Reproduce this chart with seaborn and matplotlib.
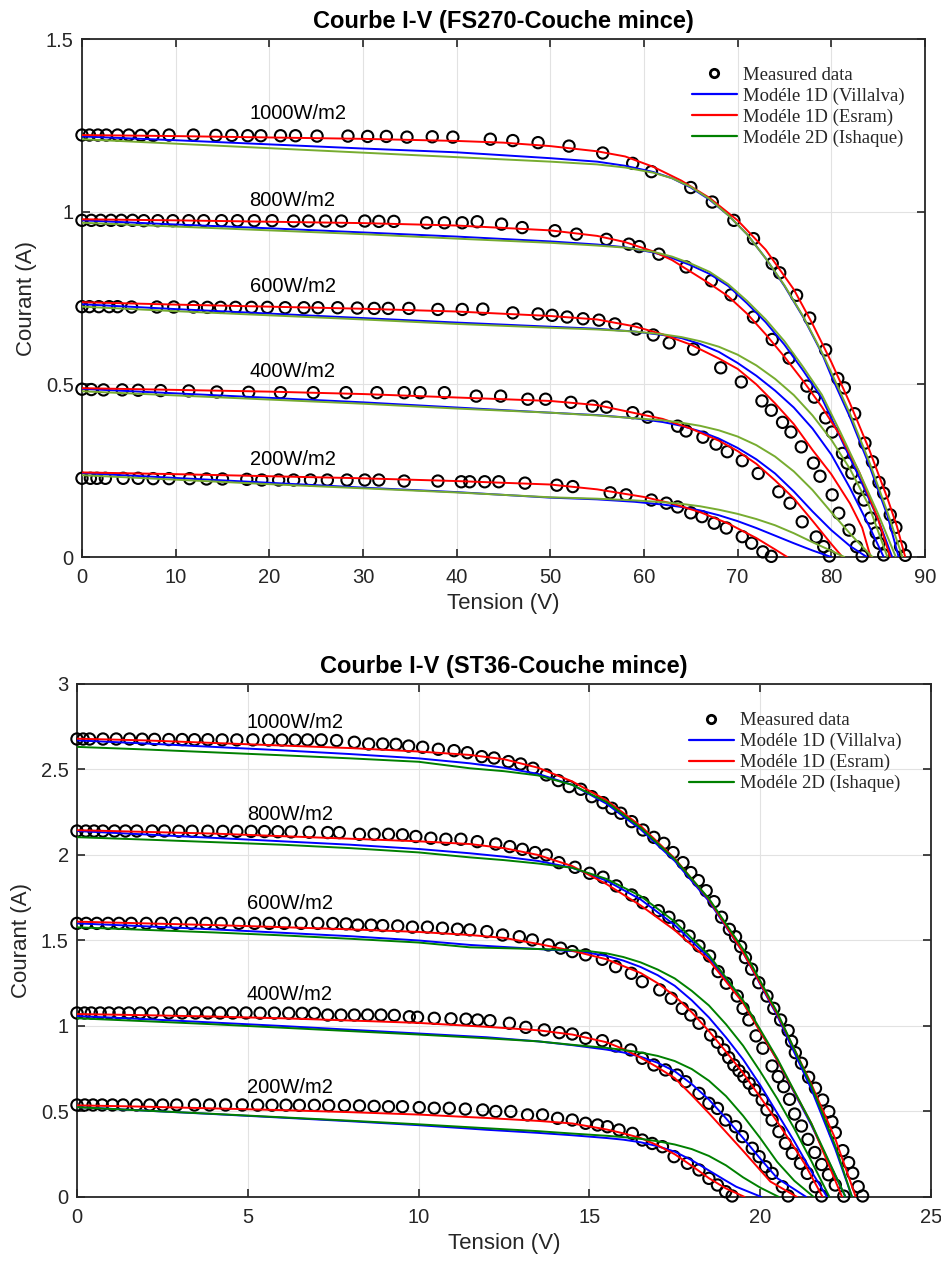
import matplotlib
matplotlib.use("Agg")
import matplotlib.pyplot as plt
from matplotlib.lines import Line2D
from matplotlib.ticker import FuncFormatter, MultipleLocator
import seaborn as sns
import pandas as pd

# ---------------------------------------------------------------
# FS270 thin film module : measured points (V, A)
# ---------------------------------------------------------------
fs_meas_1000 = [(0, 1.222), (0.8, 1.222), (1.7, 1.222), (2.6, 1.222), (3.8, 1.222), (5.0, 1.222),
                (6.3, 1.221), (7.6, 1.221), (9.3, 1.222), (11.9, 1.222), (14.3, 1.221), (16.0, 1.221),
                (17.7, 1.220), (19.1, 1.220), (21.2, 1.220), (22.8, 1.220), (25.1, 1.219), (28.4, 1.219),
                (30.5, 1.218), (32.5, 1.218), (34.7, 1.216), (37.4, 1.217), (39.6, 1.216), (43.6, 1.210),
                (46.0, 1.206), (48.7, 1.200), (52.0, 1.190), (55.6, 1.170), (58.8, 1.140), (60.8, 1.116),
                (65.0, 1.070), (67.3, 1.028), (69.6, 0.975), (71.7, 0.922), (73.7, 0.850), (74.5, 0.823),
                (76.3, 0.758), (77.7, 0.692), (79.4, 0.600), (80.7, 0.517), (81.4, 0.490), (82.5, 0.415),
                (83.6, 0.330), (84.4, 0.276), (85.1, 0.216), (85.6, 0.185), (86.3, 0.122), (86.9, 0.086),
                (87.4, 0.030), (87.9, 0.005)]
fs_meas_800 = [(0, 0.975), (1.0, 0.975), (2.0, 0.975), (3.1, 0.975), (4.2, 0.975), (5.4, 0.975),
               (6.6, 0.974), (8.1, 0.974), (9.7, 0.974), (11.4, 0.974), (13.0, 0.974), (14.9, 0.974),
               (16.6, 0.974), (18.4, 0.974), (20.3, 0.974), (22.6, 0.973), (24.2, 0.973), (26.0, 0.973),
               (27.7, 0.973), (30.2, 0.973), (31.7, 0.972), (33.3, 0.972), (36.8, 0.968), (38.7, 0.968),
               (40.6, 0.968), (42.2, 0.971), (44.8, 0.964), (47.0, 0.954), (50.5, 0.945), (52.8, 0.935),
               (56.0, 0.920), (58.4, 0.906), (59.5, 0.899), (61.6, 0.877), (64.5, 0.840), (67.2, 0.800),
               (69.3, 0.759), (71.7, 0.695), (73.7, 0.630), (75.5, 0.576), (77.4, 0.495), (78.2, 0.463),
               (79.4, 0.403), (80.1, 0.362), (81.2, 0.300), (81.7, 0.272), (82.2, 0.243), (83.0, 0.200),
               (83.5, 0.165), (84.2, 0.113), (84.8, 0.070), (85.1, 0.040), (85.6, 0.006)]
fs_meas_600 = [(0, 0.725), (0.8, 0.725), (1.8, 0.725), (2.9, 0.725), (3.8, 0.725), (5.3, 0.724),
               (8.0, 0.724), (9.8, 0.724), (11.9, 0.724), (13.4, 0.723), (14.8, 0.723), (16.4, 0.723),
               (18.1, 0.723), (19.8, 0.723), (21.7, 0.722), (23.7, 0.722), (25.2, 0.722), (27.3, 0.722),
               (29.4, 0.721), (31.2, 0.720), (32.7, 0.720), (34.9, 0.720), (38.0, 0.717), (40.6, 0.717),
               (42.8, 0.718), (46.0, 0.707), (48.7, 0.704), (50.2, 0.700), (51.8, 0.695), (53.5, 0.690),
               (55.2, 0.686), (56.9, 0.675), (59.2, 0.660), (61.0, 0.643), (62.7, 0.620), (65.3, 0.602),
               (68.2, 0.548), (70.4, 0.507), (72.6, 0.452), (73.6, 0.425), (74.8, 0.390), (75.7, 0.362),
               (76.8, 0.319), (78.1, 0.272), (78.8, 0.234), (80.1, 0.180), (80.8, 0.127), (81.9, 0.078),
               (82.7, 0.030), (83.3, 0.003)]
fs_meas_400 = [(0, 0.486), (1.0, 0.485), (2.3, 0.484), (4.3, 0.484), (6.0, 0.483), (8.4, 0.482),
               (11.4, 0.481), (14.4, 0.478), (17.8, 0.477), (21.2, 0.476), (24.7, 0.476), (28.2, 0.476),
               (31.5, 0.476), (34.4, 0.476), (36.1, 0.476), (38.7, 0.476), (42.1, 0.466), (44.7, 0.466),
               (47.6, 0.457), (49.5, 0.457), (52.2, 0.448), (54.5, 0.437), (56.0, 0.434), (58.8, 0.418),
               (60.4, 0.405), (63.6, 0.379), (64.5, 0.365), (66.3, 0.347), (67.7, 0.327), (68.9, 0.305),
               (70.5, 0.279), (72.2, 0.242), (74.4, 0.189), (75.6, 0.156), (76.9, 0.102), (78.4, 0.058),
               (79.2, 0.030), (79.8, 0.003)]
fs_meas_200 = [(0, 0.228), (0.9, 0.228), (1.6, 0.228), (2.5, 0.228), (4.4, 0.228), (6.0, 0.228),
               (7.6, 0.227), (9.3, 0.227), (11.5, 0.227), (13.3, 0.226), (15.0, 0.226), (17.6, 0.225),
               (19.2, 0.223), (21.0, 0.223), (22.6, 0.223), (24.4, 0.223), (26.2, 0.223), (28.3, 0.223),
               (30.2, 0.223), (31.7, 0.223), (34.4, 0.220), (38.0, 0.220), (40.5, 0.218), (41.4, 0.218),
               (43.0, 0.218), (44.5, 0.218), (47.3, 0.214), (50.7, 0.208), (52.4, 0.204), (56.4, 0.186),
               (58.1, 0.180), (60.8, 0.165), (62.4, 0.156), (63.6, 0.145), (65.0, 0.128), (66.2, 0.117),
               (67.5, 0.098), (68.8, 0.084), (70.5, 0.059), (71.5, 0.040), (72.7, 0.015), (73.6, 0.002)]

# FS270 model curves
fs_villalva_1000 = [(0, 1.218), (10, 1.207), (20, 1.195), (30, 1.183), (40, 1.172), (50, 1.155), (55, 1.145),
                    (58, 1.133), (61, 1.115), (63, 1.097), (65, 1.070), (67, 1.035), (69, 0.990), (71, 0.935),
                    (73, 0.865), (75, 0.785), (77, 0.695), (79, 0.590), (80, 0.525), (82, 0.405), (84, 0.270),
                    (86, 0.120), (87.2, 0)]
fs_esram_1000 = [(0, 1.222), (10, 1.219), (20, 1.215), (30, 1.211), (40, 1.205), (45, 1.200), (50, 1.190),
                 (55, 1.175), (58, 1.160), (61, 1.130), (64, 1.090), (67, 1.040), (70, 0.975), (73, 0.890),
                 (76, 0.775), (78, 0.675), (80, 0.565), (82, 0.445), (84, 0.315), (86, 0.170), (87, 0.090),
                 (87.9, 0)]
fs_ishaque_1000 = [(0, 1.210), (10, 1.197), (20, 1.184), (30, 1.171), (40, 1.158), (50, 1.145), (55, 1.137),
                   (58, 1.128), (61, 1.113), (63, 1.097), (65, 1.072), (67, 1.037), (69, 0.990), (71, 0.935),
                   (73, 0.865), (75, 0.787), (77, 0.697), (79, 0.593), (80, 0.535), (82, 0.415), (84, 0.280),
                   (86, 0.130), (87.6, 0)]
fs_villalva_800 = [(0, 0.975), (10, 0.963), (20, 0.952), (30, 0.940), (40, 0.928), (50, 0.914), (55, 0.905),
                   (58, 0.897), (61, 0.882), (63, 0.866), (65, 0.845), (67, 0.820), (69, 0.785), (71, 0.735),
                   (73, 0.680), (75, 0.615), (77, 0.540), (79, 0.460), (81, 0.345), (83, 0.230), (85, 0.110),
                   (86.5, 0)]
fs_esram_800 = [(0, 0.978), (10, 0.975), (20, 0.971), (30, 0.967), (40, 0.960), (50, 0.946), (55, 0.930),
                (58, 0.912), (61, 0.885), (63, 0.860), (65, 0.826), (67, 0.792), (69, 0.755), (71, 0.705),
                (73, 0.645), (75, 0.580), (77, 0.510), (79, 0.435), (81, 0.350), (83, 0.245), (85, 0.110),
                (86.3, 0)]
fs_ishaque_800 = [(0, 0.968), (10, 0.957), (20, 0.946), (30, 0.935), (40, 0.922), (50, 0.910), (55, 0.902),
                  (58, 0.896), (61, 0.884), (63, 0.870), (65, 0.850), (67, 0.826), (69, 0.790), (71, 0.742),
                  (73, 0.688), (75, 0.625), (77, 0.550), (79, 0.470), (81, 0.360), (83, 0.245), (85, 0.125),
                  (86.9, 0)]
fs_villalva_600 = [(0, 0.732), (10, 0.718), (20, 0.705), (30, 0.692), (40, 0.679), (50, 0.667), (55, 0.661),
                   (59, 0.653), (62, 0.643), (64, 0.634), (66, 0.617), (68, 0.594), (70, 0.562), (72, 0.525),
                   (74, 0.482), (76, 0.433), (78, 0.372), (80, 0.297), (82, 0.200), (84, 0.092), (85.6, 0)]
fs_esram_600 = [(0, 0.738), (10, 0.731), (20, 0.725), (30, 0.719), (40, 0.711), (50, 0.698), (55, 0.688),
                (59, 0.668), (62, 0.645), (65, 0.615), (68, 0.575), (70, 0.545), (72, 0.500), (74, 0.445),
                (76, 0.385), (78, 0.310), (80, 0.240), (82, 0.155), (83.3, 0.085), (84.2, 0)]
fs_ishaque_600 = [(0, 0.725), (10, 0.712), (20, 0.700), (30, 0.688), (40, 0.675), (50, 0.664), (55, 0.659),
                  (59, 0.653), (62, 0.645), (64, 0.637), (66, 0.625), (68, 0.609), (70, 0.586), (72, 0.555),
                  (74, 0.516), (76, 0.469), (78, 0.410), (80, 0.340), (82, 0.255), (84, 0.150), (86.0, 0)]
fs_villalva_400 = [(0, 0.487), (10, 0.474), (20, 0.461), (30, 0.448), (40, 0.433), (50, 0.418), (55, 0.411),
                   (59, 0.402), (62, 0.391), (64, 0.380), (66, 0.364), (68, 0.343), (70, 0.316), (72, 0.283),
                   (74, 0.242), (76, 0.190), (78, 0.132), (80, 0.078), (82, 0.032), (83.8, 0)]
fs_esram_400 = [(0, 0.489), (10, 0.484), (20, 0.479), (30, 0.472), (40, 0.462), (50, 0.452), (55, 0.440),
                (59, 0.417), (62, 0.400), (65, 0.372), (68, 0.337), (70, 0.307), (72, 0.270), (74, 0.222),
                (76, 0.170), (78, 0.105), (80, 0.038), (81.2, 0)]
fs_ishaque_400 = [(0, 0.480), (10, 0.468), (20, 0.456), (30, 0.444), (40, 0.430), (50, 0.418), (55, 0.410),
                  (58, 0.404), (60, 0.400), (62, 0.396), (64, 0.389), (66, 0.380), (68, 0.367), (70, 0.349),
                  (72, 0.324), (74, 0.291), (76, 0.248), (78, 0.194), (80, 0.130), (82, 0.068), (83, 0.039),
                  (84.4, 0)]
fs_villalva_200 = [(0, 0.243), (10, 0.229), (20, 0.215), (30, 0.201), (40, 0.188), (50, 0.172), (55, 0.167),
                   (59, 0.160), (62, 0.152), (64, 0.145), (66, 0.135), (68, 0.121), (70, 0.104), (72, 0.084),
                   (74, 0.062), (76, 0.040), (78, 0.019), (80, 0)]
fs_esram_200 = [(0, 0.245), (10, 0.240), (20, 0.234), (30, 0.228), (40, 0.220), (50, 0.210), (55, 0.196),
                (60, 0.174), (63, 0.155), (66, 0.130), (69, 0.097), (72, 0.055), (74, 0.022), (75.3, 0)]
fs_ishaque_200 = [(0, 0.237), (10, 0.224), (20, 0.211), (30, 0.199), (40, 0.187), (50, 0.173), (55, 0.169),
                  (59, 0.164), (62, 0.159), (64, 0.154), (66, 0.147), (68, 0.137), (70, 0.125), (72, 0.110),
                  (74, 0.092), (76, 0.069), (78, 0.043), (80, 0.018), (81.4, 0)]

# ---------------------------------------------------------------
# ST36 thin film module : measured points (V, A)
# ---------------------------------------------------------------
st_meas_1000 = [(0, 2.678), (0.18, 2.678), (0.37, 2.678), (0.76, 2.678), (1.15, 2.678), (1.54, 2.678),
                (1.91, 2.677), (2.27, 2.676), (2.69, 2.675), (3.08, 2.675), (3.44, 2.674), (3.83, 2.674),
                (4.25, 2.673), (4.68, 2.673), (5.15, 2.673), (5.61, 2.672), (6.00, 2.672), (6.39, 2.672),
                (6.75, 2.673), (7.15, 2.673), (7.60, 2.669), (8.12, 2.659), (8.54, 2.649), (8.95, 2.649),
                (9.34, 2.647), (9.71, 2.637), (10.12, 2.630), (10.58, 2.618), (11.04, 2.610), (11.43, 2.598),
                (11.85, 2.575), (12.21, 2.567), (12.63, 2.546), (12.99, 2.532), (13.35, 2.507), (13.74, 2.468),
                (14.09, 2.435), (14.41, 2.400), (14.75, 2.384), (15.07, 2.341), (15.40, 2.306), (15.66, 2.273),
                (15.92, 2.244), (16.24, 2.195), (16.57, 2.146), (16.89, 2.103), (17.18, 2.068), (17.45, 2.014),
                (17.74, 1.955), (17.97, 1.897), (18.19, 1.850), (18.42, 1.791), (18.65, 1.727), (18.87, 1.636),
                (19.10, 1.565), (19.28, 1.522), (19.43, 1.464), (19.57, 1.400), (19.75, 1.332), (19.96, 1.253),
                (20.20, 1.175), (20.40, 1.103), (20.60, 1.035), (20.82, 0.973), (20.92, 0.910), (21.03, 0.844),
                (21.21, 0.782), (21.42, 0.700), (21.62, 0.636), (21.83, 0.567), (22.01, 0.499), (22.10, 0.440),
                (22.20, 0.376), (22.42, 0.271), (22.59, 0.201), (22.71, 0.139), (22.87, 0.060), (23.00, 0.006)]
st_meas_800 = [(0, 2.140), (0.26, 2.140), (0.50, 2.140), (0.76, 2.140), (1.10, 2.140), (1.42, 2.140),
               (1.75, 2.140), (2.20, 2.140), (2.56, 2.140), (2.98, 2.139), (3.37, 2.139), (3.83, 2.139),
               (4.27, 2.138), (4.68, 2.138), (5.10, 2.138), (5.49, 2.137), (5.88, 2.136), (6.27, 2.135),
               (6.80, 2.133), (7.34, 2.131), (7.68, 2.131), (8.27, 2.121), (8.70, 2.121), (9.12, 2.121),
               (9.53, 2.118), (9.92, 2.108), (10.36, 2.098), (10.80, 2.092), (11.24, 2.092), (11.72, 2.078),
               (12.26, 2.064), (12.67, 2.049), (13.04, 2.033), (13.41, 2.014), (13.74, 2.000), (14.11, 1.955),
               (14.58, 1.928), (15.01, 1.893), (15.40, 1.870), (15.79, 1.819), (16.24, 1.766), (16.57, 1.721),
               (17.02, 1.674), (17.33, 1.636), (17.62, 1.585), (17.92, 1.526), (18.21, 1.468), (18.52, 1.409),
               (18.77, 1.318), (19.01, 1.250), (19.33, 1.175), (19.50, 1.103), (19.67, 1.035), (19.88, 0.942),
               (20.08, 0.870), (20.35, 0.766), (20.53, 0.704), (20.69, 0.645), (20.86, 0.571), (21.01, 0.485),
               (21.21, 0.415), (21.40, 0.337), (21.60, 0.260), (21.80, 0.190), (22.00, 0.130), (22.20, 0.070),
               (22.45, 0.005)]
st_meas_600 = [(0, 1.600), (0.27, 1.600), (0.58, 1.600), (0.91, 1.600), (1.23, 1.600), (1.59, 1.600),
               (2.03, 1.600), (2.47, 1.600), (2.89, 1.600), (3.35, 1.600), (3.78, 1.600), (4.22, 1.600),
               (4.74, 1.600), (5.20, 1.600), (5.63, 1.600), (6.07, 1.600), (6.56, 1.600), (7.05, 1.600),
               (7.49, 1.599), (7.88, 1.597), (8.22, 1.590), (8.61, 1.590), (8.95, 1.587), (9.39, 1.585),
               (9.82, 1.578), (10.26, 1.578), (10.70, 1.572), (11.14, 1.566), (11.50, 1.562), (12.00, 1.552),
               (12.46, 1.532), (12.95, 1.522), (13.33, 1.503), (13.80, 1.474), (14.16, 1.455), (14.50, 1.435),
               (14.89, 1.416), (15.38, 1.390), (15.77, 1.347), (16.23, 1.308), (16.55, 1.259), (17.06, 1.211),
               (17.40, 1.162), (17.72, 1.103), (17.97, 1.064), (18.21, 1.016), (18.55, 0.947), (18.75, 0.905),
               (18.94, 0.860), (19.08, 0.815), (19.23, 0.772), (19.38, 0.738), (19.52, 0.704), (19.68, 0.665),
               (19.84, 0.626), (20.06, 0.567), (20.20, 0.510), (20.35, 0.450), (20.55, 0.382), (20.74, 0.314),
               (20.94, 0.255), (21.18, 0.197), (21.38, 0.138), (21.62, 0.060), (21.80, 0.006)]
st_meas_400 = [(0, 1.076), (0.22, 1.076), (0.42, 1.076), (0.68, 1.076), (0.94, 1.076), (1.23, 1.076),
               (1.52, 1.076), (1.85, 1.076), (2.22, 1.076), (2.69, 1.076), (3.08, 1.076), (3.47, 1.076),
               (3.83, 1.076), (4.19, 1.076), (4.56, 1.076), (4.95, 1.076), (5.36, 1.075), (5.78, 1.075),
               (6.20, 1.075), (6.59, 1.074), (6.95, 1.074), (7.34, 1.064), (7.73, 1.064), (8.12, 1.064),
               (8.51, 1.064), (8.90, 1.064), (9.29, 1.062), (9.73, 1.054), (9.97, 1.051), (10.46, 1.045),
               (10.95, 1.042), (11.39, 1.040), (11.73, 1.035), (12.09, 1.031), (12.66, 1.016), (13.14, 0.992),
               (13.68, 0.977), (14.12, 0.961), (14.50, 0.953), (14.89, 0.928), (15.38, 0.914), (15.77, 0.883),
               (16.21, 0.860), (16.55, 0.811), (16.89, 0.772), (17.23, 0.743), (17.57, 0.713), (17.82, 0.674),
               (18.21, 0.606), (18.50, 0.548), (18.75, 0.518), (18.99, 0.450), (19.28, 0.411), (19.48, 0.353),
               (19.77, 0.285), (19.97, 0.236), (20.16, 0.177), (20.35, 0.138), (20.65, 0.060), (20.82, 0.006)]
st_meas_200 = [(0, 0.538), (0.23, 0.538), (0.47, 0.538), (0.74, 0.538), (1.04, 0.538), (1.35, 0.538),
               (1.74, 0.538), (2.13, 0.538), (2.51, 0.538), (2.92, 0.538), (3.44, 0.538), (3.88, 0.538),
               (4.35, 0.538), (4.84, 0.538), (5.29, 0.537), (5.71, 0.537), (6.12, 0.537), (6.51, 0.536),
               (6.95, 0.536), (7.37, 0.535), (7.83, 0.534), (8.27, 0.533), (8.70, 0.530), (9.12, 0.528),
               (9.53, 0.528), (10.02, 0.523), (10.46, 0.519), (10.90, 0.519), (11.37, 0.514), (11.88, 0.509),
               (12.26, 0.500), (12.70, 0.500), (13.19, 0.480), (13.63, 0.480), (14.07, 0.460), (14.50, 0.450),
               (14.89, 0.431), (15.24, 0.421), (15.53, 0.411), (15.87, 0.392), (16.26, 0.372), (16.55, 0.333),
               (16.84, 0.313), (17.14, 0.294), (17.48, 0.236), (17.87, 0.197), (18.21, 0.158), (18.50, 0.109),
               (18.75, 0.070), (18.99, 0.031), (19.18, 0.006)]

# ST36 model curves
st_villalva_1000 = [(0, 2.670), (2, 2.652), (4, 2.632), (6, 2.612), (8, 2.590), (10, 2.565), (11.5, 2.536),
                    (12.5, 2.510), (13.5, 2.474), (14.5, 2.410), (15.5, 2.300), (16.5, 2.150), (17.5, 1.965),
                    (18.5, 1.730), (19.5, 1.430), (20.5, 1.060), (21.5, 0.630), (22.2, 0.280), (22.69, 0)]
st_esram_1000 = [(0, 2.680), (2, 2.670), (4, 2.655), (6, 2.640), (8, 2.625), (10, 2.605), (11.5, 2.585),
                 (12.5, 2.560), (13.5, 2.510), (14.5, 2.430), (15.5, 2.320), (16.5, 2.170), (17.5, 1.980),
                 (18.5, 1.740), (19.5, 1.430), (20.5, 1.070), (21.5, 0.660), (22.2, 0.340), (22.8, 0)]
st_ishaque_1000 = [(0, 2.632), (2, 2.617), (4, 2.600), (6, 2.583), (8, 2.565), (10, 2.545), (11.5, 2.507),
                   (12.5, 2.490), (13.5, 2.465), (14.5, 2.410), (15.5, 2.310), (16.5, 2.160), (17.5, 1.975),
                   (18.5, 1.745), (19.5, 1.450), (20.5, 1.080), (21.5, 0.650), (22.2, 0.300), (22.69, 0)]
st_villalva_800 = [(0, 2.140), (2, 2.120), (4, 2.100), (6, 2.080), (8, 2.060), (10, 2.035), (11.5, 2.010),
                   (12.5, 1.990), (13.5, 1.965), (14.5, 1.925), (15.5, 1.850), (16.5, 1.740), (17.5, 1.590),
                   (18.5, 1.400), (19.5, 1.140), (20.5, 0.800), (21.5, 0.420), (22.5, 0)]
st_esram_800 = [(0, 2.145), (2, 2.135), (4, 2.125), (6, 2.110), (8, 2.095), (10, 2.080), (11.5, 2.064),
                (12.5, 2.040), (13.5, 2.000), (14.5, 1.935), (15.5, 1.830), (16.5, 1.705), (17.5, 1.560),
                (18.5, 1.385), (19.5, 1.135), (20.5, 0.800), (21.5, 0.430), (22.4, 0)]
st_ishaque_800 = [(0, 2.104), (2, 2.090), (4, 2.075), (6, 2.060), (8, 2.040), (10, 2.015), (11.5, 1.986),
                  (12.5, 1.970), (13.5, 1.950), (14.5, 1.925), (15.5, 1.860), (16.5, 1.760), (17.5, 1.610),
                  (18.5, 1.415), (19.5, 1.150), (20.5, 0.810), (21.5, 0.430), (22.5, 0)]
st_villalva_600 = [(0, 1.600), (2, 1.583), (4, 1.565), (6, 1.545), (8, 1.525), (10, 1.500), (11.5, 1.474),
                   (12.5, 1.462), (13.5, 1.450), (14.5, 1.438), (15.0, 1.427), (15.5, 1.410), (16.0, 1.382),
                   (16.5, 1.345), (17.0, 1.297), (17.5, 1.235), (18.0, 1.150), (18.5, 1.050), (19.0, 0.933),
                   (19.5, 0.805), (20.0, 0.655), (20.5, 0.490), (21.0, 0.325), (21.5, 0.150), (21.96, 0)]
st_esram_600 = [(0, 1.610), (2, 1.600), (4, 1.590), (6, 1.578), (8, 1.565), (10, 1.550), (11.5, 1.532),
                (12.5, 1.515), (13.5, 1.480), (14.5, 1.440), (15.5, 1.390), (16.5, 1.310), (17.0, 1.250),
                (17.5, 1.175), (18.0, 1.080), (18.5, 0.970), (19.0, 0.850), (19.5, 0.725), (20.0, 0.585),
                (20.5, 0.440), (21.0, 0.290), (21.3, 0.195), (21.83, 0)]
st_ishaque_600 = [(0, 1.577), (2, 1.562), (4, 1.547), (6, 1.530), (8, 1.510), (10, 1.488), (11.5, 1.460),
                  (12.5, 1.455), (13.5, 1.450), (14.5, 1.443), (15.0, 1.437), (15.5, 1.425), (16.0, 1.403),
                  (16.5, 1.372), (17.0, 1.330), (17.5, 1.278), (18.0, 1.205), (18.5, 1.120), (19.0, 1.010),
                  (19.5, 0.885), (20.0, 0.735), (20.5, 0.575), (21.0, 0.400), (21.5, 0.210), (22.03, 0)]
st_villalva_400 = [(0, 1.058), (2, 1.040), (4, 1.020), (6, 1.000), (8, 0.978), (10, 0.956), (12, 0.934),
                   (13.5, 0.910), (14.5, 0.888), (15.5, 0.862), (16.0, 0.845), (16.5, 0.820), (17.0, 0.785),
                   (17.5, 0.735), (18.0, 0.660), (18.5, 0.570), (19.0, 0.460), (19.5, 0.345), (20.0, 0.225),
                   (20.5, 0.110), (21.35, 0)]
st_esram_400 = [(0, 1.070), (2, 1.063), (4, 1.055), (6, 1.045), (8, 1.032), (10, 1.018), (12, 0.995),
                (13.5, 0.975), (14.5, 0.950), (15.5, 0.905), (16.0, 0.865), (16.5, 0.815), (17.0, 0.758),
                (17.5, 0.695), (18.0, 0.595), (18.5, 0.490), (19.0, 0.380), (19.5, 0.270), (20.3, 0.090),
                (21.08, 0)]
st_ishaque_400 = [(0, 1.045), (2, 1.028), (4, 1.010), (6, 0.990), (8, 0.970), (10, 0.950), (12, 0.928),
                  (13.5, 0.910), (14.5, 0.890), (15.5, 0.872), (16.0, 0.860), (16.5, 0.845), (17.0, 0.825),
                  (17.5, 0.795), (18.0, 0.748), (18.5, 0.680), (19.0, 0.590), (19.5, 0.475), (20.0, 0.345),
                  (20.5, 0.205), (21.0, 0.095), (21.57, 0)]
st_villalva_200 = [(0, 0.526), (2, 0.505), (4, 0.485), (6, 0.464), (8, 0.443), (10, 0.420), (12, 0.393),
                   (13.5, 0.375), (14.5, 0.361), (15.5, 0.345), (16.0, 0.335), (16.5, 0.320), (17.0, 0.297),
                   (17.5, 0.265), (18.0, 0.215), (18.5, 0.155), (19.0, 0.095), (19.3, 0.060), (20.04, 0)]
st_esram_200 = [(0, 0.536), (2, 0.528), (4, 0.518), (6, 0.508), (8, 0.496), (10, 0.482), (12, 0.462),
                (13.5, 0.445), (14.5, 0.430), (15.5, 0.395), (16.0, 0.372), (16.5, 0.345), (17.0, 0.302),
                (17.5, 0.250), (18.0, 0.182), (18.5, 0.110), (19.0, 0.050), (19.55, 0)]
st_ishaque_200 = [(0, 0.525), (2, 0.505), (4, 0.486), (6, 0.466), (8, 0.446), (10, 0.425), (12, 0.402),
                  (13.5, 0.385), (14.5, 0.371), (15.5, 0.358), (16.0, 0.350), (16.5, 0.340), (17.0, 0.326),
                  (17.5, 0.307), (18.0, 0.280), (18.5, 0.240), (19.0, 0.185), (19.5, 0.115), (20.0, 0.055),
                  (20.55, 0)]

irradiance_labels = ["1000W/m2", "800W/m2", "600W/m2", "400W/m2", "200W/m2"]
legend_labels = ["Measured data", "Modéle 1D (Villalva)", "Modéle 1D (Esram)", "Modéle 2D (Ishaque)"]

BLUE = "#0000FF"
RED = "#FF0000"
DARK_GREEN = "#008000"
OLIVE_GREEN = "#77AC30"

sns.set_theme(style="ticks")
plt.rcParams["font.family"] = ["Liberation Sans", "DejaVu Sans"]


def to_df(points):
    return pd.DataFrame(points, columns=["V", "I"])


def draw_panel(ax, measured, villalva, esram, ishaque, curve_green, title,
               xmax, xstep, ymax, ystep, label_x, label_y, legend_anchor):
    # measured circles first, then the three models on top
    for pts in measured:
        sns.scatterplot(data=to_df(pts), x="V", y="I", ax=ax, marker="o", s=66,
                        facecolors="none", edgecolor="black", linewidth=1.5,
                        clip_on=False, zorder=3, legend=False)
    for series, colour in ((villalva, BLUE), (esram, RED), (ishaque, curve_green)):
        for pts in series:
            sns.lineplot(data=to_df(pts), x="V", y="I", ax=ax, sort=False, estimator=None,
                         color=colour, linewidth=1.4, zorder=4, legend=False)

    for text, y in zip(irradiance_labels, label_y):
        ax.text(label_x, y, text, fontsize=14.5, color="black", ha="left", va="baseline")

    ax.set_xlim(0, xmax)
    ax.set_ylim(0, ymax)
    ax.xaxis.set_major_locator(MultipleLocator(xstep))
    ax.yaxis.set_major_locator(MultipleLocator(ystep))
    fmt = FuncFormatter(lambda v, p: f"{v:g}")
    ax.xaxis.set_major_formatter(fmt)
    ax.yaxis.set_major_formatter(fmt)
    ax.grid(True, color="#e2e2e2", linewidth=0.8)
    ax.set_axisbelow(True)
    ax.tick_params(direction="in", length=6, width=1.2, top=True, right=True,
                   labelsize=14.5, labelcolor="#262626", color="#262626")
    ax.tick_params(axis="x", pad=8)
    ax.tick_params(axis="y", pad=6)
    for sp in ax.spines.values():
        sp.set_linewidth(1.3)
        sp.set_color("#262626")
        sp.set_visible(True)

    ax.set_title(title, fontsize=17, fontweight="bold", color="black", pad=8)
    ax.set_xlabel("Tension (V)", fontsize=16, color="#262626", labelpad=4)
    ax.set_ylabel("Courant (A)", fontsize=16, color="#262626", labelpad=6)

    handles = [Line2D([], [], ls="none", marker="o", mfc="none", mec="black", ms=6, mew=2.0),
               Line2D([], [], color=BLUE, lw=1.6),
               Line2D([], [], color=RED, lw=1.6),
               Line2D([], [], color=DARK_GREEN, lw=1.6)]
    ax.legend(handles, legend_labels, loc="upper left", bbox_to_anchor=legend_anchor,
              frameon=False, prop={"family": "Liberation Serif", "size": 13.5},
              handlelength=2.4, handletextpad=0.35, labelspacing=0.2,
              borderpad=0, borderaxespad=0)


fig = plt.figure(figsize=(9.41, 12.68), dpi=100)
ax_top = fig.add_axes([0.0871, 0.5607, 0.8958, 0.4085])
ax_bot = fig.add_axes([0.0818, 0.0560, 0.9075, 0.4046])

draw_panel(ax_top,
           [fs_meas_1000, fs_meas_800, fs_meas_600, fs_meas_400, fs_meas_200],
           [fs_villalva_1000, fs_villalva_800, fs_villalva_600, fs_villalva_400, fs_villalva_200],
           [fs_esram_1000, fs_esram_800, fs_esram_600, fs_esram_400, fs_esram_200],
           [fs_ishaque_1000, fs_ishaque_800, fs_ishaque_600, fs_ishaque_400, fs_ishaque_200],
           OLIVE_GREEN, "Courbe I-V (FS270-Couche mince)",
           90, 10, 1.5, 0.5, 17.9, [1.268, 1.017, 0.767, 0.522, 0.266], (0.7236, 0.947))

draw_panel(ax_bot,
           [st_meas_1000, st_meas_800, st_meas_600, st_meas_400, st_meas_200],
           [st_villalva_1000, st_villalva_800, st_villalva_600, st_villalva_400, st_villalva_200],
           [st_esram_1000, st_esram_800, st_esram_600, st_esram_400, st_esram_200],
           [st_ishaque_1000, st_ishaque_800, st_ishaque_600, st_ishaque_400, st_ishaque_200],
           DARK_GREEN, "Courbe I-V (ST36-Couche mince)",
           25, 5, 3, 0.5, 4.97, [2.743, 2.205, 1.684, 1.152, 0.610], (0.7166, 0.945))

fig.savefig("out.png", dpi=100)
